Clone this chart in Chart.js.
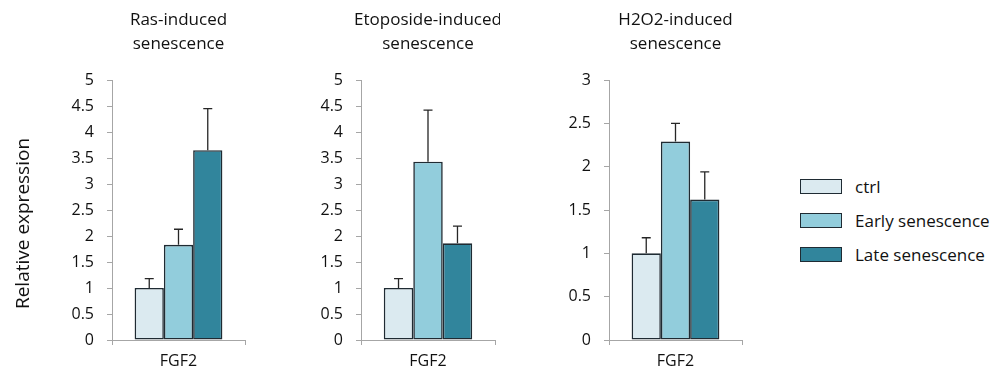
<!DOCTYPE html>
<html>
<head>
<meta charset="utf-8">
<script src="https://cdn.jsdelivr.net/npm/chart.js@4"></script>
<style>
html,body{margin:0;padding:0;background:#fff;}
#wrap{position:relative;width:992px;height:374px;overflow:hidden;font-family:"Open Sans",sans-serif;}
canvas.pc{position:absolute;top:0;}
.lg{position:absolute;left:800px;height:15px;display:flex;align-items:center;font-size:17px;color:#111;white-space:nowrap;}
.sw{display:inline-block;box-sizing:border-box;width:42px;height:15px;border:1.5px solid #1f2b33;margin-right:13px;}
</style>
</head>
<body>
<div id="wrap">
  <canvas id="c1" class="pc" width="250" height="374" style="left:0px"></canvas>
  <canvas id="c2" class="pc" width="250" height="374" style="left:250px"></canvas>
  <canvas id="c3" class="pc" width="247" height="374" style="left:500px"></canvas>
  <div id="legend"></div>
</div>
<script>
// ---- data ----
const categories = ['FGF2'];
const seriesNames = ['ctrl', 'Early senescence', 'Late senescence'];
const seriesColors = ['#dbeaf0', '#92cddc', '#31859c'];
const panelTitles = [['Ras-induced', 'senescence'], ['Etoposide-induced', 'senescence'], ['H2O2-induced', 'senescence']];
const yAxisLabel = 'Relative expression';

const rasValues  = [1.00, 1.83, 3.65];
const rasErrors  = [0.18, 0.30, 0.80];
const etoValues  = [1.00, 3.43, 1.86];
const etoErrors  = [0.18, 0.99, 0.33];
const h2o2Values = [1.00, 2.29, 1.62];
const h2o2Errors = [0.18, 0.21, 0.32];

const yMaxRas = 5, yMaxEto = 5, yMaxH2o2 = 3;
const yStep = 0.5;

// ---- plugins ----
Chart.defaults.font.family = '"Open Sans", sans-serif';

const errorBarPlugin = {
  id: 'errorBars',
  afterDatasetsDraw(chart) {
    const ctx = chart.ctx, ys = chart.scales.y;
    chart.data.datasets.forEach((ds, i) => {
      const meta = chart.getDatasetMeta(i);
      meta.data.forEach((bar, j) => {
        const v = ds.data[j], e = ds.errors[j];
        const yb = ys.getPixelForValue(v), yt = ys.getPixelForValue(v + e);
        ctx.save();
        ctx.strokeStyle = '#262626';
        ctx.lineWidth = 1.3;
        ctx.beginPath();
        ctx.moveTo(bar.x, yb); ctx.lineTo(bar.x, yt);
        ctx.moveTo(bar.x - 4.5, yt); ctx.lineTo(bar.x + 4.5, yt);
        ctx.stroke();
        ctx.restore();
      });
    });
  }
};

const annotPlugin = {
  id: 'annot',
  afterDraw(chart, args, opts) {
    const ctx = chart.ctx, ca = chart.chartArea;
    ctx.save();
    ctx.fillStyle = '#111';
    ctx.font = '17px "Open Sans"';
    ctx.textAlign = 'center';
    ctx.textBaseline = 'alphabetic';
    const cx = (ca.left + ca.right) / 2;
    (opts.lines || []).forEach((t, k) => ctx.fillText(t, cx, 25 + 24 * k));
    if (opts.yLabel) {
      ctx.translate(29, 223.5);
      ctx.rotate(-Math.PI / 2);
      ctx.font = '19px "Open Sans"';
      ctx.fillText(opts.yLabel, 0, 0);
    }
    ctx.restore();
  }
};

function makeChart(id, values, errors, yMax, title, yLabel, yW) {
  return new Chart(document.getElementById(id), {
    type: 'bar',
    data: {
      labels: categories,
      datasets: seriesNames.map((n, i) => ({
        label: n,
        data: [values[i]],
        errors: [errors[i]],
        backgroundColor: seriesColors[i],
        borderColor: '#1f2b33',
        borderWidth: 1.6,
        borderSkipped: false,
        categoryPercentage: 0.66,
        barPercentage: 1
      }))
    },
    options: {
      responsive: false,
      animation: false,
      devicePixelRatio: 1,
      layout: { padding: { top: 80, right: 5, left: 0, bottom: 0 } },
      plugins: {
        legend: { display: false },
        tooltip: { enabled: false },
        title: { display: false },
        annot: { lines: title, yLabel: yLabel }
      },
      scales: {
        x: {
          grid: { display: true, drawOnChartArea: false, drawTicks: true, tickLength: 5, color: '#a6a6a6', offset: true },
          border: { display: true, color: '#a6a6a6', width: 1 },
          ticks: { color: '#111', font: { size: 16 }, padding: 7 },
          afterFit(s) { s.height = 34; }
        },
        y: {
          min: 0, max: yMax,
          ticks: { stepSize: yStep, color: '#111', font: { size: 16 }, padding: 13, callback: v => String(v) },
          grid: { drawOnChartArea: false, drawTicks: true, tickLength: 5, color: '#a6a6a6' },
          border: { display: true, color: '#a6a6a6', width: 1 },
          afterFit(s) { s.width = yW; }
        }
      }
    },
    plugins: [errorBarPlugin, annotPlugin]
  });
}

makeChart('c1', rasValues, rasErrors, yMaxRas, panelTitles[0], yAxisLabel, 112);
makeChart('c2', etoValues, etoErrors, yMaxEto, panelTitles[1], null, 111);
makeChart('c3', h2o2Values, h2o2Errors, yMaxH2o2, panelTitles[2], null, 109);

// ---- legend ----
const legendTops = [179, 213, 247];
const lg = document.getElementById('legend');
seriesNames.forEach((n, i) => {
  const d = document.createElement('div');
  d.className = 'lg';
  d.style.top = legendTops[i] + 'px';
  const sw = document.createElement('span');
  sw.className = 'sw';
  sw.style.background = seriesColors[i];
  const t = document.createElement('span');
  t.textContent = n;
  d.appendChild(sw); d.appendChild(t);
  lg.appendChild(d);
});
</script>
</body>
</html>
